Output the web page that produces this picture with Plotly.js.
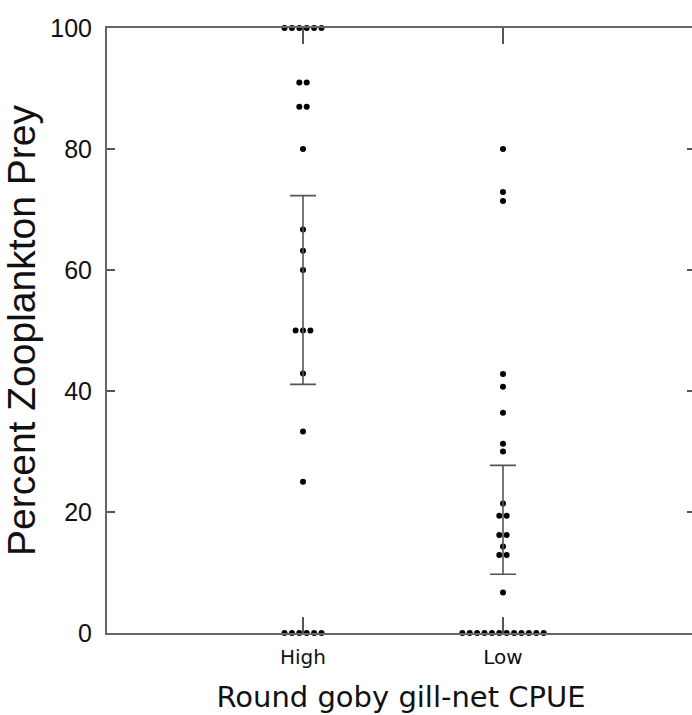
<!DOCTYPE html>
<html>
<head>
<meta charset="utf-8">
<script src="https://cdn.plot.ly/plotly-3.0.1.min.js"></script>
<style>
html,body{margin:0;padding:0;overflow:hidden;background:#fff;}
#chart{width:700px;height:715px;}
</style>
</head>
<body>
<div id="chart"></div>
<script>
// Category labels and their positions on the x axis
const categories = ['High', 'Low'];
const categoryPos = [1, 2];

// Percent zooplankton prey per fish
const highValues = [100, 100, 100, 100, 100, 100, 91, 91, 87, 87, 80, 66.7, 63.2, 60,
  50, 50, 50, 42.9, 33.3, 25, 0, 0, 0, 0, 0, 0];
const lowValues = [80, 72.9, 71.4, 42.8, 40.7, 36.4, 31.3, 30, 21.4, 19.4, 19.4,
  16.2, 16.2, 14.3, 12.9, 12.9, 6.7, 0, 0, 0, 0, 0, 0, 0, 0, 0, 0, 0, 0];

// Group means and 95% CI half-widths
const groupMeans = [56.7, 18.7];
const groupCI = [15.6, 9.0];

const yTickVals = [0, 20, 40, 60, 80, 100];

// Dot-plot layout: identical values are spread side by side
const dotSpacing = 0.037;
function dotPlot(values, center) {
  const counts = {};
  values.forEach(v => { counts[v] = (counts[v] || 0) + 1; });
  const seen = {};
  const xs = [], ys = [];
  values.forEach(v => {
    const n = counts[v];
    const i = seen[v] || 0;
    seen[v] = i + 1;
    xs.push(center + (i - (n - 1) / 2) * dotSpacing);
    ys.push(v);
  });
  return {xs, ys};
}

const hi = dotPlot(highValues, categoryPos[0]);
const lo = dotPlot(lowValues, categoryPos[1]);

const dotMarker = {color: '#000', size: 6, symbol: 'circle'};

const traces = [
  {x: hi.xs, y: hi.ys, type: 'scatter', mode: 'markers', marker: dotMarker,
   cliponaxis: false, hoverinfo: 'y'},
  {x: lo.xs, y: lo.ys, type: 'scatter', mode: 'markers', marker: dotMarker,
   cliponaxis: false, hoverinfo: 'y'},
  {x: categoryPos, y: groupMeans, type: 'scatter', mode: 'markers',
   marker: {size: 1, opacity: 0, color: '#000'},
   error_y: {type: 'data', array: groupCI, visible: true, color: '#555',
             thickness: 1.6, width: 13}, cliponaxis: false, hoverinfo: 'y'}
];

const layout = {
  width: 700, height: 715,
  margin: {l: 107, r: 5, t: 28, b: 82},
  paper_bgcolor: '#fff', plot_bgcolor: '#fff',
  showlegend: false,
  xaxis: {
    range: [0.02, 2.96],
    tickvals: categoryPos, ticktext: categories,
    ticks: 'inside', ticklen: 16, tickwidth: 1.5, tickcolor: '#555',
    showline: true, linecolor: '#666', linewidth: 2, mirror: 'allticks',
    showgrid: false, zeroline: false,
    ticklabelstandoff: 5,
    tickfont: {family: 'DejaVu Sans', size: 20, color: '#111'},
    title: {text: 'Round goby gill-net CPUE',
            font: {family: 'DejaVu Sans', size: 29, color: '#111'}, standoff: 19}
  },
  yaxis: {
    range: [0, 100],
    tickvals: yTickVals,
    ticks: 'inside', ticklen: 8, tickwidth: 1.5, tickcolor: '#555',
    showline: true, linecolor: '#666', linewidth: 2, mirror: 'allticks',
    showgrid: false, zeroline: false,
    ticklabelstandoff: 8,
    tickfont: {family: 'Arial, Liberation Sans', size: 25, color: '#111'},
    title: {text: 'Percent Zooplankton Prey',
            font: {family: 'Arial, Liberation Sans', size: 39, color: '#111'}, standoff: 5}
  }
};

Plotly.newPlot('chart', traces, layout, {displayModeBar: false, staticPlot: true});
</script>
</body>
</html>
